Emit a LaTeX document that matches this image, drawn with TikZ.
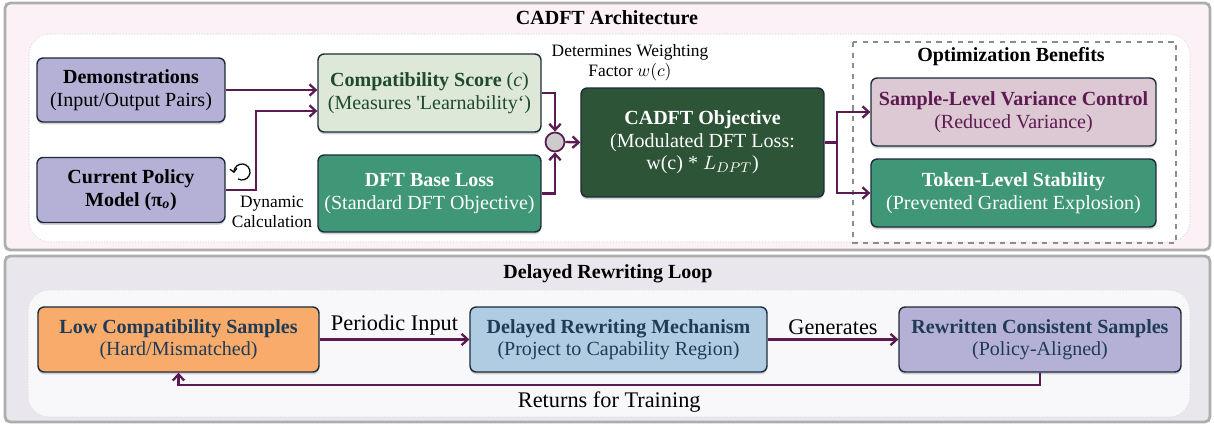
\documentclass[tikz,border=0pt]{standalone}
\usepackage{fontspec}
\setmainfont{Liberation Serif}
\usetikzlibrary{arrows.meta,calc,shadows}
\definecolor{arrowc}{HTML}{5B1A50}
\definecolor{navy}{HTML}{1C2B3A}
\definecolor{lav}{HTML}{B5B0D6}
\definecolor{compatfill}{HTML}{DDE8D9}
\definecolor{compattext}{HTML}{1F4A2C}
\definecolor{dftfill}{HTML}{409778}
\definecolor{objfill}{HTML}{2D5436}
\definecolor{samplefill}{HTML}{DCC9D3}
\definecolor{sampletext}{HTML}{5E1B52}
\definecolor{lowfill}{HTML}{F9AB6B}
\definecolor{delfill}{HTML}{AFCCE2}
\definecolor{bluetext}{HTML}{1F3B55}
\definecolor{toppanel}{HTML}{FBF1F6}
\definecolor{botpanel}{HTML}{E9E6EE}
\definecolor{botinner}{HTML}{F8F8FA}
\newcommand\boxfont{\fontsize{11.4}{12.8}\selectfont}
\newcommand\lblfont{\fontsize{9.9}{11.3}\selectfont}
\newcommand\loopfont{\fontsize{12.7}{14}\selectfont}
\begin{document}
\begin{tikzpicture}[x=0.02cm,y=-0.02cm,
  box/.style={draw=navy, line width=0.8pt, rounded corners=3.5pt, align=center,
    inner sep=2pt, font=\boxfont,
    drop shadow={shadow xshift=0pt, shadow yshift=-1.3pt, opacity=0.35}},
  flow/.style={draw=arrowc, line width=1.3pt, -{Straight Barb[length=3.5pt,width=6.5pt]}},
  plain/.style={draw=arrowc, line width=1.3pt},
  outerpanel/.style={draw=black!32, line width=1.6pt, rounded corners=3pt},
  innerpanel/.style={draw=black!12, densely dotted, line width=0.6pt, rounded corners=12pt},
  paneltitle/.style={font=\boxfont\bfseries, text=black}
]
\useasboundingbox (0,0) rectangle (1214,425);

% panels
\draw[outerpanel, fill=toppanel] (5,3) rectangle (1210,250);
\draw[innerpanel, fill=white] (29,34) rectangle (1190,242);
\node[paneltitle] (toptitle) at (607,18) {CADFT Architecture};

\draw[outerpanel, fill=botpanel] (5,256) rectangle (1210,422);
\draw[innerpanel, fill=botinner] (28,290) rectangle (1190,417);
\node[paneltitle] (bottitle) at (608,274) {Delayed Rewriting Loop};

% dashed benefits frame
\draw[draw=black!45, dashed, line width=0.8pt] (853,42) rectangle (1176,243);
\node[paneltitle] (bentitle) at (1011,57) {Optimization Benefits};

% top nodes
\node[box, fill=lav, text=black, minimum width=3.76cm, minimum height=1.28cm] (demo) at (131,90)
  {\textbf{Demonstrations}\\(Input/Output Pairs)};
\node[box, fill=lav, text=black, minimum width=3.76cm, minimum height=1.30cm] (policy) at (131,190)
  {\textbf{Current Policy}\\\textbf{Model (π\textsubscript{\textit{o}})}};
\node[box, fill=compatfill, text=compattext, minimum width=4.46cm, minimum height=1.56cm] (compat) at (429.5,93)
  {\textbf{Compatibility Score} (\textit{c})\\(Measures \textquotesingle Learnability`)};
\node[box, fill=dftfill, text=white, minimum width=4.46cm, minimum height=1.54cm] (dft) at (429.5,193.5)
  {\textbf{DFT Base Loss}\\(Standard DFT Objective)};
\node[circle, draw=arrowc, line width=1pt, fill=black!20, minimum size=0.38cm, inner sep=0pt] (sum) at (555,142) {};
\node[box, fill=objfill, text=white, minimum width=4.86cm, minimum height=2.18cm] (obj) at (702.5,142.5)
  {\textbf{CADFT Objective}\\(Modulated DFT Loss:\\w(c) * $L_{DPT}$)};
\node[box, fill=samplefill, text=sampletext, minimum width=5.70cm, minimum height=1.36cm] (sample) at (1013.5,112)
  {\textbf{Sample-Level Variance Control}\\(Reduced Variance)};
\node[box, fill=dftfill, text=white, minimum width=5.70cm, minimum height=1.36cm] (token) at (1013.5,193)
  {\textbf{Token-Level Stability}\\(Prevented Gradient Explosion)};

% labels
\node[font=\lblfont, align=center] (weightlbl) at (630,63) {Determines Weighting\\Factor $w(c)$};
\node[font=\lblfont, align=center] (dynlbl) at (272,212) {Dynamic\\Calculation};

% cycle icon
\coordinate (cyc) at (242,172);
\draw[black, line width=0.7pt, -{Straight Barb[length=2pt,width=4pt]}] ($(cyc)+(120:8)$) arc[start angle=120, end angle=-188, radius=8];

% top connectors
\draw[flow] (demo.east) -- (demo.east -| compat.west);
\coordinate (pjoin) at (256,0);
\draw[flow] (policy.east) -- (policy.east -| pjoin) |- ($(compat.west)+(0,18)$);
\draw[flow] (compat.east) -| (sum.north);
\draw[flow] (dft.east) -| (sum.south);
\draw[flow] (sum.east) -- (obj.west);
\coordinate (br) at (837,142.5);
\draw[plain] (obj.east) -- (br);
\draw[flow] (br) |- (sample.west);
\draw[flow] (br) |- (token.west);

% bottom nodes
\node[box, fill=lowfill, text=bluetext, minimum width=5.62cm, minimum height=1.30cm] (low) at (178.5,339.5)
  {\textbf{Low Compatibility Samples}\\(Hard/Mismatched)};
\node[box, fill=delfill, text=bluetext, minimum width=5.94cm, minimum height=1.30cm] (delayed) at (618.5,339.5)
  {\textbf{Delayed Rewriting Mechanism}\\(Project to Capability Region)};
\node[box, fill=lav, text=bluetext, minimum width=5.64cm, minimum height=1.30cm] (rewritten) at (1040,339.5)
  {\textbf{Rewritten Consistent Samples}\\(Policy-Aligned)};

\draw[flow] (low.east) -- node[above, font=\loopfont, inner sep=2pt] (perlbl) {Periodic Input} (delayed.west);
\draw[flow] (delayed.east) -- node[above, font=\loopfont, inner sep=2pt] (genlbl) {Generates} (rewritten.west);
\coordinate (retline) at (600,385);
\draw[flow] (rewritten.south) -- (rewritten.south |- retline)
  -- node[below, font=\loopfont, inner sep=3pt] (retlbl) {Returns for Training} (low.south |- retline)
  -- (low.south);
\end{tikzpicture}
\end{document}
